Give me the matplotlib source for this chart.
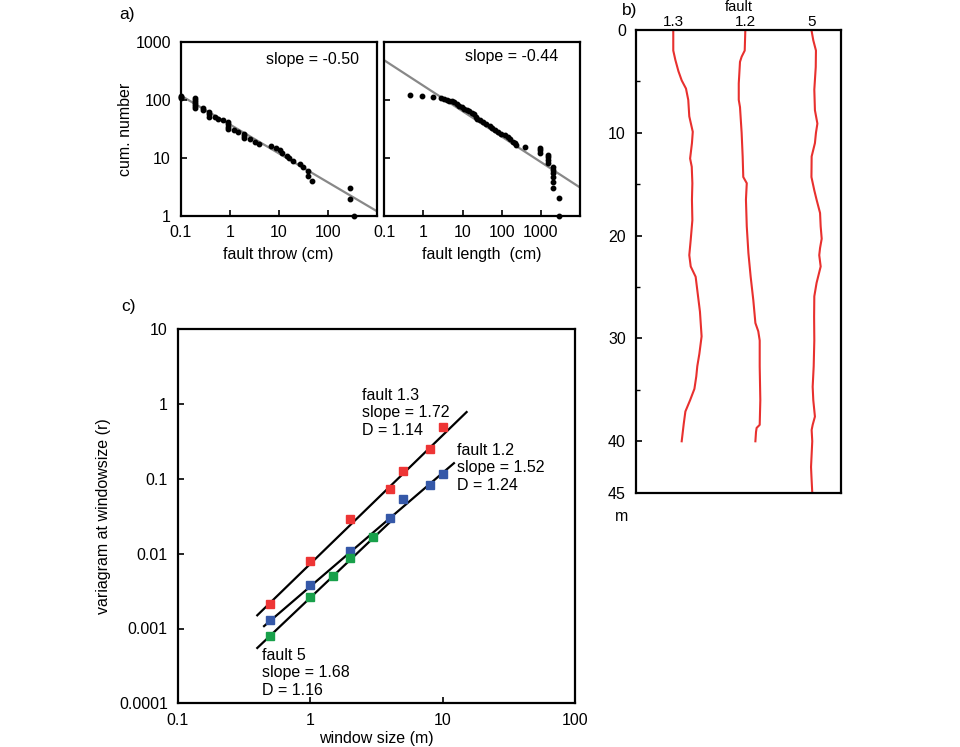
import numpy as np
import matplotlib
matplotlib.use("Agg")
import matplotlib.pyplot as plt

plt.rcParams['font.family'] = ['Liberation Sans', 'DejaVu Sans']
plt.rcParams['font.size'] = 11.5

# ---- a) cumulative frequency data ----
throw_cm = [0.1, 0.1, 0.1, 0.2, 0.2, 0.2, 0.2, 0.2, 0.2, 0.29, 0.29, 0.37, 0.37, 0.37,
            0.49, 0.59, 0.74, 0.94, 0.94, 0.94, 0.94, 1.25, 1.5, 2.0, 2.0, 2.0, 2.6,
            3.3, 3.9, 7.0, 8.9, 10.4, 11.6, 14.7, 16.6, 19.5, 27.5, 32, 38.8, 39.5,
            47.7, 290, 290, 339]
throw_cum = [120, 115, 110, 107, 100, 93, 86, 80, 74, 72, 68, 62, 57, 52,
             50, 48, 45, 42, 38, 34, 31, 30, 28, 26, 24, 22.4, 21,
             19, 17.5, 16.3, 15, 13.7, 12.3, 10.8, 9.8, 8.8, 7.8, 7.0, 5.9, 4.9,
             4.0, 3.0, 1.95, 1.0]
throw_slope = -0.50
throw_at_1 = 38.0

length_cm = [0.45, 0.94, 1.8, 2.8, 3.4, 4.0, 4.6, 5.4, 6.2, 7.2, 8.3, 9.5, 11, 13, 15,
             17, 20, 22, 24, 28, 33, 40, 49, 57, 66, 80, 98, 120, 145, 165, 194, 215,
             237, 388, 944, 944, 944, 1490, 1490, 1490, 1490, 2000, 2000, 2000, 2000,
             2000, 2000, 2950, 2950]
length_cum = [124, 119, 115, 110, 105, 102, 98, 95, 92, 86, 80, 75, 70, 67, 65,
              61, 57, 52, 48, 45, 42, 38, 35, 33, 30, 28, 26, 25, 23, 21, 19, 18,
              16.7, 15.6, 14.7, 13.5, 12.3, 11.2, 10.2, 9.2, 8.3, 7.0, 6.2, 5.4, 4.6,
              3.9, 3.0, 2.0, 1.0]
length_slope = -0.44
length_at_1 = 177.0

# ---- b) fault traces (depth in m, lateral position) ----
f13_depth = [0, 2.0, 2.9, 4.0, 4.9, 5.7, 6.8, 8.4, 9.9, 11.0, 12.5, 13.3, 14.9, 16.5, 18.5,
             20.4, 21.9, 23.0, 24.0, 25.3, 27.4, 29.8, 31.5, 32.7, 33.7, 34.9, 36.0, 37.1,
             38.3, 40.0]
f13_pos = [1.83, 1.83, 1.93, 2.08, 2.24, 2.45, 2.56, 2.61, 2.78, 2.74, 2.65, 2.73, 2.76, 2.74,
           2.76, 2.68, 2.61, 2.68, 2.92, 3.00, 3.13, 3.21, 3.10, 3.00, 2.95, 2.86, 2.65, 2.42,
           2.34, 2.24]
f12_depth = [0, 2.0, 2.6, 3.1, 5.2, 6.8, 7.5, 10.0, 12.3, 14.3, 14.9, 16.5, 19.1, 21.7, 24.0,
             26.3, 28.5, 29.3, 30.2, 32.7, 36.0, 38.4, 38.7, 39.1, 40.0]
f12_pos = [5.34, 5.31, 5.16, 5.08, 5.02, 5.02, 5.08, 5.16, 5.21, 5.24, 5.41, 5.37, 5.41, 5.49,
           5.60, 5.73, 5.83, 5.97, 6.04, 6.04, 6.07, 6.04, 5.89, 5.86, 5.83]
f5_depth = [0, 1.0, 2.0, 3.6, 5.8, 7.8, 9.1, 10.0, 11.0, 12.3, 14.3, 15.6, 16.5, 17.8, 19.1,
            20.3, 21.2, 21.9, 23.0, 24.6, 25.9, 27.9, 30.2, 32.7, 34.7, 36.0, 37.6, 38.4,
            38.9, 40.0, 42.5, 43.4, 45.0]
f5_pos = [8.56, 8.65, 8.78, 8.77, 8.70, 8.73, 8.85, 8.78, 8.73, 8.57, 8.56, 8.70, 8.81, 8.98,
          9.01, 9.06, 8.98, 8.94, 9.01, 8.81, 8.70, 8.69, 8.70, 8.67, 8.62, 8.65, 8.73, 8.62,
          8.57, 8.60, 8.54, 8.56, 8.60]
trace_labels = ['1.3', '1.2', '5']

# ---- c) variogram data ----
win_13 = [0.5, 1, 2, 4, 5, 8, 10]
var_13 = [0.00215, 0.0079, 0.029, 0.073, 0.126, 0.254, 0.494]
win_12 = [0.5, 1, 2, 4, 5, 8, 10]
var_12 = [0.00128, 0.00378, 0.0108, 0.030, 0.0545, 0.084, 0.118]
win_5 = [0.5, 1, 1.5, 2, 3]
var_5 = [0.00079, 0.0026, 0.0051, 0.0088, 0.0166]
fit_slope = [1.72, 1.52, 1.68]
fit_at_1m = [0.00726, 0.00362, 0.00256]
fit_range = [(0.40, 15.2), (0.45, 12.2), (0.40, 4.2)]

W, H = 960, 747
fig = plt.figure(figsize=(9.6, 7.47), dpi=100)

def px_axes(l, t, r, b):
    return fig.add_axes([l / W, 1 - b / H, (r - l) / W, (b - t) / H])

def style(ax):
    for s in ax.spines.values():
        s.set_linewidth(1.6)
    ax.tick_params(which='both', direction='in', length=4, width=1.2, pad=7)
    ax.tick_params(which='minor', length=0)

# a) left
ax1 = px_axes(180.7, 42.3, 376.7, 215.7)
ax1.set_xscale('log'); ax1.set_yscale('log')
ax1.set_xlim(0.1, 1000); ax1.set_ylim(1, 1000)
xx = np.array([0.1, 1000])
ax1.plot(xx, throw_at_1 * xx ** throw_slope, color='#888888', lw=1.6, zorder=1)
ax1.plot(throw_cm, throw_cum, 'o', color='black', ms=3.2, zorder=2, clip_on=False)
ax1.set_xticks([0.1, 1, 10, 100, 1000], ['0.1', '1', '10', '100', ''])
ax1.set_yticks([1, 10, 100, 1000], ['1', '10', '100', '1000'])
ax1.set_xlabel('fault throw (cm)', labelpad=5)
ax1.set_ylabel('cum. number', labelpad=2)
ax1.text(0.434, 0.898, 'slope = -0.50', transform=ax1.transAxes, va='center')
style(ax1)

# a) right
ax2 = px_axes(384.3, 42.3, 580, 215.7)
ax2.set_xscale('log'); ax2.set_yscale('log')
ax2.set_xlim(0.1, 10000); ax2.set_ylim(1, 1000)
xx = np.array([0.1, 10000])
ax2.plot(xx, length_at_1 * xx ** length_slope, color='#888888', lw=1.6, zorder=1)
ax2.plot(length_cm, length_cum, 'o', color='black', ms=3.2, zorder=2, clip_on=False)
ax2.set_xticks([0.1, 1, 10, 100, 1000], ['0.1', '1', '10', '100', '1000'])
ax2.set_yticks([1, 10, 100, 1000], ['', '', '', ''])
ax2.set_xlabel('fault length  (cm)', labelpad=5)
ax2.text(0.412, 0.917, 'slope = -0.44', transform=ax2.transAxes, va='center')
style(ax2)

# b) traces
axb = px_axes(635.7, 30, 841, 492.7)
axb.set_xlim(0, 10); axb.set_ylim(45, 0)
for d, p in [(f13_depth, f13_pos), (f12_depth, f12_pos), (f5_depth, f5_pos)]:
    axb.plot(p, d, color='#e8302e', lw=1.5)
axb.xaxis.tick_top()
axb.set_xticks([f13_pos[0], f12_pos[0], f5_pos[0]], trace_labels)
axb.set_yticks([0, 10, 20, 30, 40, 45])
axb.set_yticks([5, 15, 25, 35], minor=True)
style(axb)
axb.tick_params(axis='x', length=0, pad=1, labelsize=11)
axb.tick_params(axis='y', which='minor', length=3, width=1.0)
axb.text(0.5, 1 + 19 / 462.7, 'fault', transform=axb.transAxes, ha='center',
         va='baseline', fontsize=10.5)
axb.text(-0.035, -24 / 462.7, 'm', transform=axb.transAxes, ha='right', va='center')

# c) variogram
axc = px_axes(177.5, 329.3, 575, 703.3)
axc.set_xscale('log'); axc.set_yscale('log')
axc.set_xlim(0.1, 100); axc.set_ylim(0.0001, 10)
for s, c0, (x0, x1) in zip(fit_slope, fit_at_1m, fit_range):
    xx = np.array([x0, x1])
    axc.plot(xx, c0 * xx ** s, color='black', lw=1.6, zorder=1)
axc.plot(win_13, var_13, 's', color='#ee3535', ms=5.5, zorder=2)
axc.plot(win_12, var_12, 's', color='#3558a8', ms=5.5, zorder=2)
axc.plot(win_5, var_5, 's', color='#18a04a', ms=5.5, zorder=2)
axc.set_xticks([0.1, 1, 10, 100], ['0.1', '1', '10', '100'])
axc.set_yticks([0.0001, 0.001, 0.01, 0.1, 1, 10],
               ['0.0001', '0.001', '0.01', '0.1', '1', '10'])
axc.set_xlabel('window size (m)', labelpad=2)
axc.set_ylabel('variagram at windowsize (r)', labelpad=6)
axc.text(2.47, 1.64, 'fault 1.3\nslope = 1.72\nD = 1.14', va='top', ha='left')
axc.text(12.8, 0.302, 'fault 1.2\nslope = 1.52\nD = 1.24', va='top', ha='left')
axc.text(0.436, 0.00055, 'fault 5\nslope = 1.68\nD = 1.16', va='top', ha='left')
style(axc)

fig.text(127 / W, 1 - 14 / H, 'a)', ha='center', va='center', fontsize=12.5)
fig.text(630 / W, 1 - 10 / H, 'b)', ha='center', va='center', fontsize=12.5)
fig.text(128 / W, 1 - 307 / H, 'c)', ha='center', va='center', fontsize=12.5)

fig.savefig('out.png', dpi=100)
